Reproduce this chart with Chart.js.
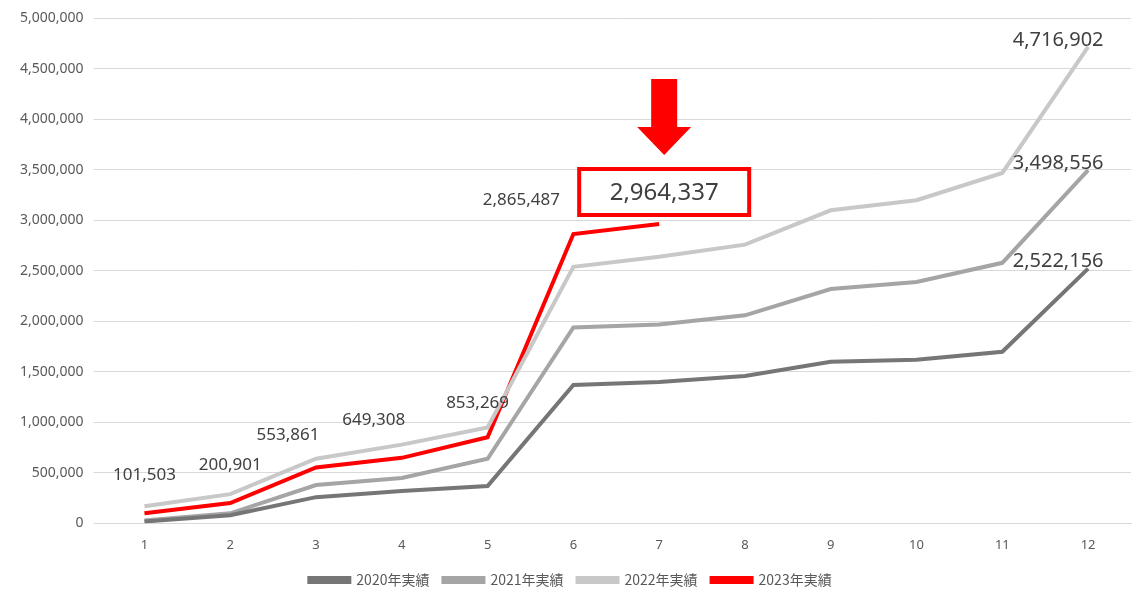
<!DOCTYPE html>
<html><head><meta charset="utf-8">
<script src="https://cdn.jsdelivr.net/npm/chart.js@4"></script>
<style>body{margin:0;background:#fff}#w{width:1146px;height:603px}</style>
</head><body><div id="w"><canvas id="c"></canvas></div>
<script>
const months = ["1","2","3","4","5","6","7","8","9","10","11","12"];
const s2020 = [20000,80000,260000,320000,370000,1370000,1400000,1460000,1600000,1620000,1700000,2522156];
const s2021 = [30000,100000,380000,450000,640000,1940000,1970000,2060000,2320000,2390000,2580000,3498556];
const s2022 = [170000,290000,640000,780000,950000,2540000,2640000,2760000,3100000,3200000,3470000,4716902];
const s2023 = [101503,200901,553861,649308,853269,2865487,2964337];
const fmt = v => v.toLocaleString("en-US");

const labelPlugin = {
  id: "labels",
  afterDatasetsDraw(chart) {
    const ctx = chart.ctx, x = chart.scales.x, y = chart.scales.y;
    ctx.save();
    ctx.font = "17px 'Noto Sans'";
    ctx.fillStyle = "#404040";
    ctx.textAlign = "center";
    ctx.textBaseline = "middle";
    const offs = [[0,-38],[0,-38],[-28,-32],[-28,-38],[-10,-34],[-52,-34]];
    for (let i = 0; i < 6; i++) {
      const px = x.getPixelForValue(i), py = y.getPixelForValue(s2023[i]);
      ctx.fillText(fmt(s2023[i]), px + offs[i][0], py + offs[i][1]);
    }
    const px7 = x.getPixelForValue(6), py7 = y.getPixelForValue(s2023[6]);
    const bx = px7 - 80, by = py7 - 55;
    ctx.strokeStyle = "#ff0000"; ctx.lineWidth = 4;
    ctx.strokeRect(bx, by, 170, 46);
    ctx.font = "24px 'Noto Sans'";
    ctx.fillText(fmt(s2023[6]), bx + 85, by + 24);
    ctx.fillStyle = "#ff0000";
    ctx.beginPath();
    const ax = bx + 85;
    ctx.moveTo(ax - 13, by - 90); ctx.lineTo(ax + 13, by - 90); ctx.lineTo(ax + 13, by - 42);
    ctx.lineTo(ax + 27, by - 42); ctx.lineTo(ax, by - 14); ctx.lineTo(ax - 27, by - 42);
    ctx.lineTo(ax - 13, by - 42); ctx.closePath(); ctx.fill();
    ctx.fillStyle = "#404040";
    ctx.font = "20px 'Noto Sans'";
    const px12 = x.getPixelForValue(11);
    [s2020, s2021, s2022].forEach(s => {
      ctx.fillText(fmt(s[11]), px12 - 30, y.getPixelForValue(s[11]) - 7);
    });
    ctx.restore();
  }
};

const mk = (label, data, color) => ({label, data, borderColor: color, backgroundColor: color,
  borderWidth: 4, pointRadius: 0, tension: 0});

new Chart(document.getElementById("c"), {
  type: "line",
  data: { labels: months, datasets: [
    mk("2020年実績", s2020, "#767676"),
    mk("2021年実績", s2021, "#a5a5a5"),
    mk("2022年実績", s2022, "#c8c8c8"),
    mk("2023年実績", s2023, "#ff0000")
  ]},
  options: {
    responsive: true, maintainAspectRatio: false, animation: false,
    layout: { padding: { left: 10, right: 15, top: 14, bottom: 6 } },
    scales: {
      x: { offset: true, grid: { display: false }, border: { color: "#d9d9d9" },
           ticks: { color: "#595959", font: { size: 13, family: "Noto Sans" }, padding: 6 } },
      y: { min: 0, max: 5000000, grid: { color: "#d9d9d9" }, border: { display: false },
           ticks: { stepSize: 500000, color: "#595959", font: { size: 14, family: "Noto Sans" },
                    callback: v => fmt(v), padding: 10 } }
    },
    plugins: {
      legend: { position: "bottom", labels: { boxWidth: 40, boxHeight: 4, padding: 14,
        color: "#595959", font: { size: 14, family: "Noto Sans CJK JP" } } },
      tooltip: { enabled: false }
    }
  },
  plugins: [labelPlugin]
});
</script></body></html>
